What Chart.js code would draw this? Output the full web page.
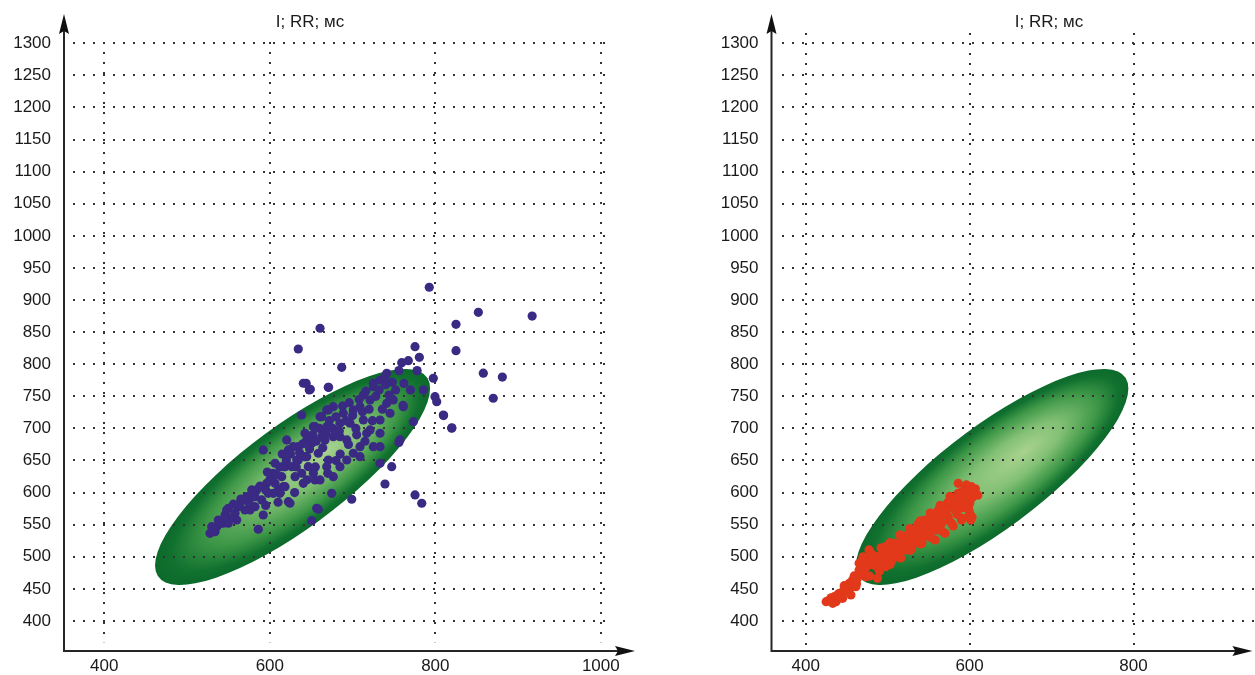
<!DOCTYPE html>
<html>
<head>
<meta charset="utf-8">
<script src="https://cdn.jsdelivr.net/npm/chart.js@4.4.1/dist/chart.umd.min.js"></script>
<style>
  body { margin: 0; background: #fff; overflow: hidden; }
  #leftChart { position: absolute; left: 0; top: 0; }
  #rightChart { position: absolute; left: 700px; top: 0; }
</style>
</head>
<body>
<canvas id="leftChart" width="700" height="675"></canvas>
<canvas id="rightChart" width="555" height="675"></canvas>
<script>
var titleText = "I; RR; мс";
var yTicks = [400, 450, 500, 550, 600, 650, 700, 750, 800, 850, 900, 950, 1000, 1050, 1100, 1150, 1200, 1250, 1300];
var xTicksLeft = [400, 600, 800, 1000];
var xTicksRight = [400, 600, 800];

// norm ellipse: centre x, centre y, half width, half height, tilt phase (deg)
var ellipse = [627.5, 624.3, 166.2, 168.3, 35];

// left: RR points (x = RR n, y = RR n+1)
var leftPoints = [
  [529.8, 546.9], [537.8, 557.3], [545.9, 565.1], [549.9, 575.6], [533.8, 539.1],
  [561.9, 578.1], [570, 588.5], [582.1, 593.6], [590.2, 588.5], [558, 567.8],
  [592.1, 666.4], [622.4, 585.9], [656.7, 575.6], [650.6, 556.3], [592.1, 565.1],
  [606.3, 614.5], [614.4, 624.8], [610.3, 604.1], [626.5, 640.4], [634.4, 650.8],
  [642.5, 656], [630.5, 624.8], [618.4, 640.4], [638.5, 630.1], [642.5, 692.4],
  [654.6, 702.7], [662.7, 718.3], [670.7, 728.7], [650.6, 676.8], [666.7, 682],
  [638.5, 720.9], [658.6, 661.3], [670.7, 650.8], [598.2, 598.8], [602.3, 624.8],
  [578.1, 604.1], [570, 572.9], [618.4, 609.2], [646.5, 640.4], [654.6, 619.7],
  [606.3, 645.7], [622.4, 666.4], [634.4, 671.5], [549.9, 552.2], [582.1, 578.1],
  [741.3, 785.9], [733.2, 775.4], [725.1, 765], [721.1, 744.3], [709, 733.9],
  [700.9, 728.7], [688.8, 723.6], [676.7, 733.9], [668.8, 728.7], [660.7, 718.3],
  [668.8, 702.7], [684.8, 708], [696.9, 708], [713, 713.1], [741.3, 739.1],
  [749.2, 744.3], [761.3, 733.9], [745.3, 723.6], [733.2, 713.1], [717.1, 692.4],
  [733.2, 692.4], [725.1, 671.5], [733.2, 671.5], [709, 671.5], [700.9, 661.3],
  [709, 656], [693, 650.8], [676.7, 687.1], [684.8, 687.1], [693, 682],
  [721.1, 697.6], [757.3, 682], [773.4, 710.5], [785.5, 759.9], [797.6, 778.1],
  [799.6, 749.4], [801.7, 741.6], [809.7, 720.9], [819.8, 700.2], [775.5, 827.3],
  [780.7, 810.8], [767.4, 805.5], [759.4, 802.4], [686.9, 795.2], [739.2, 780.6],
  [670.7, 764.1], [640.5, 770.3], [647.7, 759.9], [634.4, 823.7], [660.7, 856],
  [792.7, 919.9], [825, 862.2], [825, 821.1], [852, 880.9], [917, 875],
  [858, 786], [881, 780], [870, 747], [620.4, 682], [628.4, 671.5],
  [644.6, 682], [652.6, 702.7], [662.7, 687.1], [644.6, 656], [632.5, 650.8],
  [616.3, 640.4], [604.2, 630.1], [596.3, 614.5], [584.2, 604.1], [572.1, 593.6],
  [564, 583.4], [547.9, 572.9], [535.8, 546.9], [527.7, 536.6], [586.1, 542.9],
  [624.4, 583.4], [658.6, 574], [674.8, 598.9], [699, 589.6], [739.2, 613.4],
  [775.5, 596.3], [783.6, 583.4], [733.2, 645.7], [747.3, 640.4], [684.8, 640.4],
  [676.7, 624.8], [668.8, 640.4], [660.7, 619.7], [652.6, 630.1], [640.5, 614.5],
  [616.3, 609.2], [612.3, 598.8], [604.2, 598.8], [576.1, 572.9], [560, 557.3],
  [543.8, 552.2], [644, 770], [649, 761], [671, 764], [725, 770],
  [713, 752], [761, 736], [810, 720], [820, 701], [756, 678],
  [540, 552], [552, 560], [556, 582], [565, 590], [575, 584],
  [580, 600], [588, 610], [595, 604], [600, 620], [597, 632],
  [608, 628], [612, 640], [620, 650], [615, 660], [625, 660],
  [632, 640], [636, 662], [640, 676], [648, 668], [652, 690],
  [656, 680], [660, 700], [664, 670], [668, 692], [672, 712],
  [676, 700], [680, 718], [684, 696], [688, 735], [692, 712],
  [696, 740], [700, 720], [704, 700], [708, 745], [712, 726],
  [716, 758], [720, 730], [724, 712], [728, 750], [732, 760],
  [736, 730], [740, 768], [744, 752], [748, 772], [752, 760],
  [756, 790], [762, 770], [770, 760], [778, 790], [655, 640],
  [645, 620], [630, 600], [610, 585], [595, 580], [685, 660],
  [695, 675], [715, 680], [705, 690], [680, 650], [670, 630]
];

// right: RR points of the second record
var rightPoints = [
  [429, 432.7], [435, 437.9], [441.1, 443.1], [447.1, 450.9], [453.2, 458.6],
  [457.2, 463.8], [437, 430.1], [445.1, 435.3], [455.2, 440.5], [461.2, 453.4],
  [459.2, 470.1], [465.2, 479.4], [451.1, 448.3], [433, 427.5], [425, 430.1],
  [469.3, 479.4], [469.3, 495], [477.3, 495], [485.4, 500.2], [493.4, 505.4],
  [501.5, 510.6], [509.5, 520.9], [517.6, 531.3], [525.7, 536.5], [533.7, 541.7],
  [489.4, 479.4], [497.5, 484.6], [505.5, 495], [513.6, 505.4], [521.6, 510.6],
  [529.7, 515.8], [537.7, 526.1], [487.4, 466.4], [473.3, 469], [477.3, 510.6],
  [465.2, 489.8], [497.5, 515.8], [509.5, 500.2], [521.6, 526.1], [537.7, 552.1],
  [545.8, 557.3], [553.8, 562.5], [561.9, 572.9], [570, 578.1], [578, 588.5],
  [586.1, 598.9], [594.1, 606.6], [602.2, 609.2], [606.2, 598.9], [598.2, 591.1],
  [590.1, 583.3], [582, 572.9], [574, 562.5], [565.9, 552.1], [557.9, 541.7],
  [549.8, 531.3], [541.8, 520.9], [557.9, 526.1], [570, 536.5], [578, 552.1],
  [590.1, 557.3], [600.2, 583.3], [600.2, 567.7], [601.4, 557.3], [545.8, 541.7],
  [529.7, 531.3], [586.1, 614.4], [594.1, 593.7], [610, 596], [605, 603],
  [431, 436], [439, 441], [443, 436], [449, 446], [447, 455],
  [455, 452], [458, 460], [462, 458], [463, 466], [467, 472],
  [471, 476], [474, 484], [479, 488], [483, 493], [485, 486],
  [489, 497], [491, 490], [495, 495], [499, 502], [501, 494],
  [505, 505], [507, 512], [511, 508], [513, 515], [517, 520],
  [519, 512], [523, 522], [526, 528], [530, 524], [533, 533],
  [535, 546], [539, 538], [541, 531], [543, 546], [547, 550],
  [550, 542], [551, 556], [555, 552], [557, 566], [560, 560],
  [562, 548], [565, 565], [567, 574], [571, 570], [573, 584],
  [575, 556], [577, 578], [581, 582], [583, 592], [585, 566],
  [587, 588], [589, 600], [591, 576], [593, 598], [596, 612],
  [598, 602], [603, 592], [607, 606], [599, 574], [603, 562],
  [470, 500], [480, 505], [492, 514], [503, 522], [515, 534],
  [527, 544], [540, 556], [552, 568], [564, 580], [576, 594],
  [478, 470], [490, 478], [503, 488], [516, 498], [528, 510],
  [540, 520], [553, 530], [566, 540], [580, 548], [592, 560]
];

var tickFont = { family: "'Liberation Sans', Arial, sans-serif", size: 17 };

// dotted grid, ellipse, axes with arrows and the title
var decor = {
  id: "decor",
  beforeDatasetsDraw: function (chart, args, o) {
    var ctx = chart.ctx, x = chart.scales.x, y = chart.scales.y;
    ctx.save();

    var cx = x.getPixelForValue(ellipse[0]);
    var cy = y.getPixelForValue(ellipse[1]);
    var ax = x.getPixelForValue(ellipse[0] + ellipse[2]) - cx;
    var ay = cy - y.getPixelForValue(ellipse[1] + ellipse[3]);
    var f = ellipse[4] * Math.PI / 180;
    ctx.save();
    ctx.transform(ax, -ay * Math.cos(f), 0, -ay * Math.sin(f), cx, cy);
    var g = ctx.createRadialGradient(0.24, 0.08, 0, 0, 0, 1);
    g.addColorStop(0, "#a8d28e");
    g.addColorStop(0.35, "#82c074");
    g.addColorStop(0.7, "#3d9747");
    g.addColorStop(0.9, "#11712f");
    g.addColorStop(1, "#0c6a2b");
    ctx.fillStyle = g;
    ctx.beginPath();
    ctx.arc(0, 0, 1, 0, Math.PI * 2);
    ctx.fill();
    ctx.restore();

    ctx.strokeStyle = "#333";
    ctx.lineWidth = 2;
    ctx.setLineDash([2, 8]);
    yTicks.forEach(function (v) {
      var py = Math.round(y.getPixelForValue(v));
      ctx.beginPath();
      ctx.moveTo(Math.round(x.getPixelForValue(o.gridX[0])), py);
      ctx.lineTo(x.getPixelForValue(o.gridX[1]), py);
      ctx.stroke();
    });
    o.xTicks.forEach(function (v) {
      var px = Math.round(x.getPixelForValue(v));
      ctx.beginPath();
      ctx.moveTo(px, Math.round(y.getPixelForValue(o.gridY[1])) - 1);
      ctx.lineTo(px, y.getPixelForValue(o.gridY[0]));
      ctx.stroke();
    });
    ctx.restore();
  },
  afterDraw: function (chart, args, o) {
    var ctx = chart.ctx, a = chart.chartArea;
    var tipX = a.right + o.tipOver;
    ctx.save();
    ctx.strokeStyle = "#262626";
    ctx.fillStyle = "#111";
    ctx.lineWidth = 2;
    ctx.beginPath();
    ctx.moveTo(a.left, a.bottom);
    ctx.lineTo(a.left, a.top + 12);
    ctx.moveTo(a.left - 1, a.bottom);
    ctx.lineTo(tipX - 12, a.bottom);
    ctx.stroke();
    // arrow heads
    ctx.beginPath();
    ctx.moveTo(a.left, a.top);
    ctx.lineTo(a.left + 5, a.top + 20);
    ctx.lineTo(a.left, a.top + 17);
    ctx.lineTo(a.left - 5, a.top + 20);
    ctx.closePath();
    ctx.fill();
    ctx.beginPath();
    ctx.moveTo(tipX, a.bottom);
    ctx.lineTo(tipX - 20, a.bottom - 5);
    ctx.lineTo(tipX - 17, a.bottom);
    ctx.lineTo(tipX - 20, a.bottom + 5);
    ctx.closePath();
    ctx.fill();

    ctx.font = "17px 'Liberation Sans', Arial, sans-serif";
    ctx.fillStyle = "#1a1a1a";
    ctx.textAlign = "center";
    ctx.textBaseline = "middle";
    ctx.fillText(titleText, a.left + o.titleAt, 22);
    ctx.restore();
  }
};

function plain(v) { return String(v); }
function noPad(s) { s.paddingTop = 0; s.paddingBottom = 0; s.paddingLeft = 0; s.paddingRight = 0; }

function makeChart(id, points, color, xMin, xMax, xTicks, right, opts) {
  return new Chart(document.getElementById(id), {
    type: "scatter",
    data: {
      datasets: [{
        data: points.map(function (p) { return { x: p[0], y: p[1] }; }),
        backgroundColor: color,
        borderWidth: 0,
        pointRadius: 4.6,
        pointHoverRadius: 4.6
      }]
    },
    options: {
      responsive: false,
      animation: false,
      layout: { padding: { top: 14, right: right, left: 0, bottom: 0 } },
      plugins: {
        legend: { display: false },
        tooltip: { enabled: false },
        decor: opts
      },
      scales: {
        x: {
          type: "linear", min: xMin, max: xMax,
          grid: { display: false, drawTicks: false },
          border: { display: false },
          afterBuildTicks: function (s) { s.ticks = xTicks.map(function (v) { return { value: v }; }); },
          afterFit: function (s) { s.height = 24; noPad(s); },
          ticks: { font: tickFont, color: "#1a1a1a", padding: 5, autoSkip: false, maxRotation: 0, callback: plain }
        },
        y: {
          type: "linear", min: 353.2, max: 1345.6,
          grid: { display: false, drawTicks: false },
          border: { display: false },
          afterBuildTicks: function (s) { s.ticks = yTicks.map(function (v) { return { value: v }; }); },
          afterFit: function (s) { s.width = opts.axisAt; noPad(s); },
          ticks: { font: tickFont, color: "#1a1a1a", padding: 13, autoSkip: false, callback: plain }
        }
      }
    },
    plugins: [decor]
  });
}

makeChart("leftChart", leftPoints, "#3a2a84", 351.3, 1041.3, xTicksLeft, 65,
  { axisAt: 64, gridX: [362.2, 1012.4], gridY: [367, 1300.5], xTicks: xTicksLeft, tipOver: 0, titleAt: 246 });
makeChart("rightChart", rightPoints, "#e2391b", 358.3, 942.6, xTicksRight, 0,
  { axisAt: 71.5, gridX: [371, 950], gridY: [362.6, 1314.5], xTicks: xTicksRight, tipOver: 2, titleAt: 277.5 });
</script>
</body>
</html>
